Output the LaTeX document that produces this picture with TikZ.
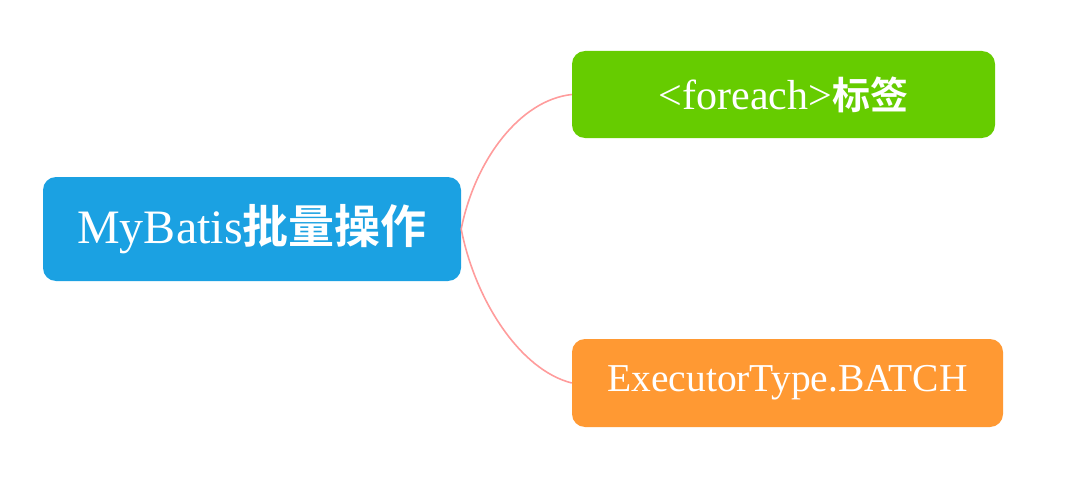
\documentclass[tikz,border=0pt]{standalone}
\usepackage{fontspec}
\setmainfont{Liberation Serif}
\newfontfamily\cjk{Noto Sans CJK SC Bold}
\definecolor{cblue}{HTML}{1BA1E2}
\definecolor{cgreen}{HTML}{66CC00}
\definecolor{corange}{HTML}{FF9933}
\definecolor{cline}{HTML}{FF9C9C}
\begin{document}
\begin{tikzpicture}[x=1pt,y=-1pt,
  box/.style={rectangle, rounded corners=13pt, inner sep=0pt, text=white, anchor=center},
  conn/.style={draw=cline, line width=1.6pt}]
\useasboundingbox (0,0) rectangle (1080,487);
\node[box, fill=cblue, minimum width=418pt, minimum height=104pt,
  font=\fontsize{48}{48}\selectfont] (root) at (252,229) {MyBatis{\cjk\fontsize{46}{46}\selectfont 批量操作}};
\node[box, fill=cgreen, minimum width=423pt, minimum height=87pt,
  font=\fontsize{42}{42}\selectfont] (fe) at (783.5,94.5) {<foreach>{\cjk\fontsize{38}{38}\selectfont 标签}};
\node[box, fill=corange, minimum width=431pt, minimum height=88pt,
  font=\fontsize{39.5}{39.5}\selectfont] (ex) at (787.5,383) {ExecutorType.BATCH};
\draw[conn] (root.east) .. controls (475,160) and (520,100) .. (fe.west);
\draw[conn] (root.east) .. controls (475,300) and (520,370) .. (ex.west);
\end{tikzpicture}
\end{document}
